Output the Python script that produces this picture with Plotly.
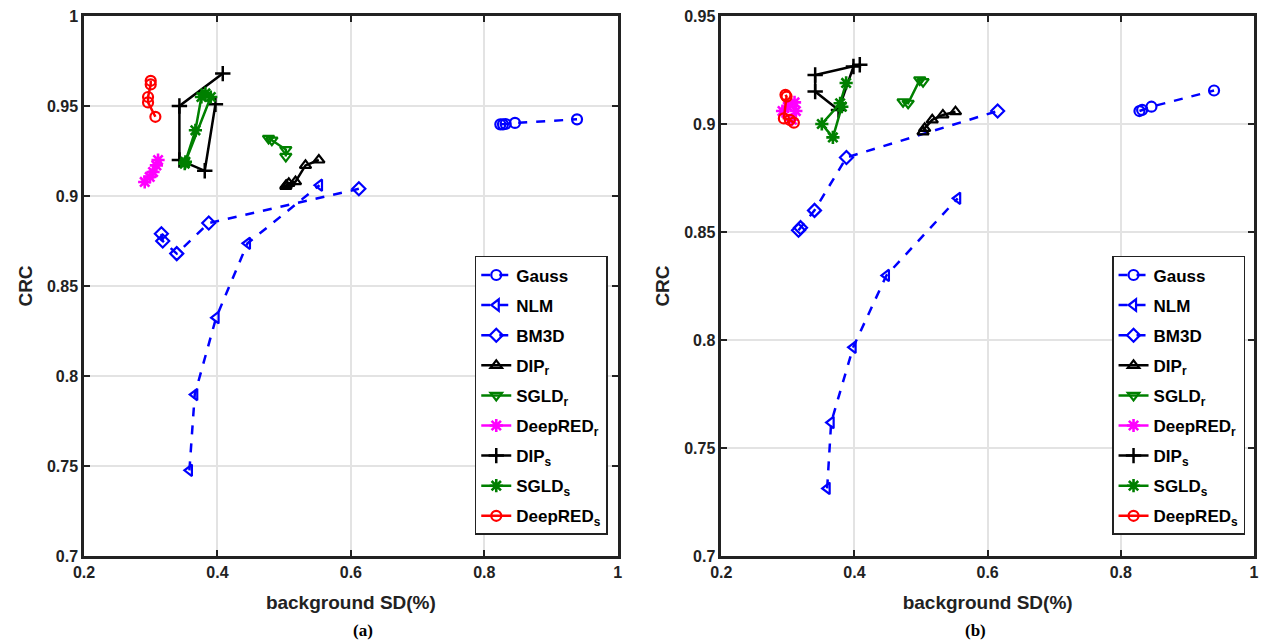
import plotly.graph_objects as go

# ---------------- data: panel (a) ----------------
a_gauss_x = [0.824, 0.828, 0.832, 0.846, 0.939]
a_gauss_y = [0.9398, 0.9398, 0.9400, 0.9406, 0.9426]
a_nlm_x = [0.358, 0.366, 0.398, 0.445, 0.553]
a_nlm_y = [0.7476, 0.7897, 0.8324, 0.8737, 0.906]
a_bm3d_x = [0.316, 0.318, 0.339, 0.387, 0.612]
a_bm3d_y = [0.879, 0.875, 0.868, 0.885, 0.904]
a_dipr_x = [0.552, 0.532, 0.517, 0.507, 0.503, 0.5025]
a_dipr_y = [0.920, 0.917, 0.908, 0.907, 0.906, 0.9054]
a_sgldr_x = [0.4766, 0.4816, 0.5025, 0.5025]
a_sgldr_y = [0.932, 0.931, 0.9258, 0.922]
a_deepr_x = [0.311, 0.3085, 0.3035, 0.2985, 0.291]
a_deepr_y = [0.920, 0.917, 0.9133, 0.9106, 0.9078]
a_dips_x = [0.408, 0.343, 0.343, 0.381, 0.397]
a_dips_y = [0.968, 0.950, 0.920, 0.914, 0.951]
a_sglds_x = [0.351, 0.367, 0.376, 0.382, 0.390, 0.352]
a_sglds_y = [0.918, 0.9365, 0.955, 0.957, 0.955, 0.919]
a_deeps_x = [0.300, 0.300, 0.296, 0.296, 0.307]
a_deeps_y = [0.964, 0.962, 0.955, 0.952, 0.944]

# ---------------- data: panel (b) ----------------
b_gauss_x = [0.828, 0.832, 0.846, 0.940]
b_gauss_y = [0.906, 0.9065, 0.908, 0.9155]
b_nlm_x = [0.359, 0.365, 0.398, 0.448, 0.555]
b_nlm_y = [0.7313, 0.7618, 0.7966, 0.8299, 0.8656]
b_bm3d_x = [0.316, 0.319, 0.340, 0.388, 0.615]
b_bm3d_y = [0.8508, 0.852, 0.860, 0.8845, 0.906]
b_dipr_x = [0.5517, 0.5328, 0.5168, 0.5054, 0.503]
b_dipr_y = [0.9057, 0.9042, 0.9019, 0.898, 0.8964]
b_sgldr_x = [0.473, 0.4806, 0.498, 0.503]
b_sgldr_y = [0.9103, 0.9096, 0.9204, 0.9196]
b_deepr_x = [0.292, 0.300, 0.310, 0.312, 0.306]
b_deepr_y = [0.906, 0.908, 0.910, 0.906, 0.902]
b_dips_x = [0.408, 0.341, 0.341, 0.376, 0.3985]
b_dips_y = [0.9274, 0.9227, 0.915, 0.9065, 0.9266]
b_sglds_x = [0.3875, 0.3785, 0.351, 0.3676, 0.381]
b_sglds_y = [0.919, 0.9096, 0.900, 0.8938, 0.908]
b_deeps_x = [0.2964, 0.298, 0.294, 0.303, 0.309]
b_deeps_y = [0.9135, 0.9127, 0.9026, 0.9019, 0.9006]

names = ["Gauss", "NLM", "BM3D", "DIP<sub>r</sub>", "SGLD<sub>r</sub>",
         "DeepRED<sub>r</sub>", "DIP<sub>s</sub>", "SGLD<sub>s</sub>", "DeepRED<sub>s</sub>"]
colors = ["#0000FF", "#0000FF", "#0000FF", "#000000", "#008000",
          "#FF00FF", "#000000", "#008000", "#FF0000"]
symbols = ["circle-open", "triangle-left-open", "diamond-open", "triangle-up-open",
           "triangle-down-open", "asterisk-open", "cross-thin-open", "asterisk-open", "circle-open"]
mwidths = [2.2, 2.2, 2.2, 2.2, 2.2, 2.6, 2.5, 2.6, 2.2]
msizes = [10, 10, 10, 10, 10, 11, 11, 11, 10]
dashes = ["dash", "dash", "dash", "solid", "solid", "solid", "solid", "solid", "solid"]

panel_a = [(a_gauss_x, a_gauss_y), (a_nlm_x, a_nlm_y), (a_bm3d_x, a_bm3d_y),
           (a_dipr_x, a_dipr_y), (a_sgldr_x, a_sgldr_y), (a_deepr_x, a_deepr_y),
           (a_dips_x, a_dips_y), (a_sglds_x, a_sglds_y), (a_deeps_x, a_deeps_y)]
panel_b = [(b_gauss_x, b_gauss_y), (b_nlm_x, b_nlm_y), (b_bm3d_x, b_bm3d_y),
           (b_dipr_x, b_dipr_y), (b_sgldr_x, b_sgldr_y), (b_deepr_x, b_deepr_y),
           (b_dips_x, b_dips_y), (b_sglds_x, b_sglds_y), (b_deeps_x, b_deeps_y)]

x_ticks = [0.2, 0.4, 0.6, 0.8, 1.0]
x_ticktext = ["0.2", "0.4", "0.6", "0.8", "1"]
a_y_ticks = [0.7, 0.75, 0.8, 0.85, 0.9, 0.95, 1.0]
a_y_ticktext = ["0.7", "0.75", "0.8", "0.85", "0.9", "0.95", "1"]
b_y_ticks = [0.7, 0.75, 0.8, 0.85, 0.9, 0.95]
b_y_ticktext = ["0.7", "0.75", "0.8", "0.85", "0.9", "0.95"]

fig = go.Figure()

for panel, xa, ya, leg in [(panel_a, "x", "y", "legend"), (panel_b, "x2", "y2", "legend2")]:
    for i, (xs, ys) in enumerate(panel):
        fig.add_trace(go.Scatter(
            x=xs, y=ys, xaxis=xa, yaxis=ya, name=names[i], legend=leg,
            legendgroup=leg + str(i),
            mode="lines+markers",
            line=dict(color=colors[i], width=2.5, dash=dashes[i]),
            marker=dict(symbol=symbols[i], size=msizes[i], color=colors[i],
                        line=dict(color=colors[i], width=mwidths[i])),
        ))

W, H = 1266, 642
L, R, T, B = 84, 7, 16, 86
pw = W - L - R
dom_a = [0, (620 - L) / pw]
dom_b = [(724 - L) / pw, 1]

tickfont = dict(family="Liberation Sans Narrow, Arial Narrow, Liberation Sans", size=16,
                color="#222222", weight="bold")
titlefont = dict(family="Liberation Sans, Arial", size=19, color="#222222")

def xaxis(dom, anchor):
    return dict(domain=dom, anchor=anchor, range=[0.2, 1.0], tickvals=x_ticks, ticktext=x_ticktext,
                showgrid=True, gridcolor="#e3e3e3", gridwidth=1.5, zeroline=False,
                showline=True, linecolor="#222222", linewidth=2.5, mirror="ticks",
                ticks="inside", ticklen=6, tickwidth=2, tickcolor="#222222",
                tickfont=tickfont,
                title=dict(text="<b>background SD(%)</b>", font=titlefont, standoff=16))

def yaxis(rng, tv, tt, anchor):
    return dict(anchor=anchor, domain=[0, 1], range=rng, tickvals=tv, ticktext=tt,
                showgrid=True, gridcolor="#e3e3e3", gridwidth=1.5, zeroline=False,
                showline=True, linecolor="#222222", linewidth=2.5, mirror="ticks",
                ticks="inside", ticklen=6, tickwidth=2, tickcolor="#222222",
                tickfont=tickfont,
                title=dict(text="<b>CRC</b>", font=titlefont, standoff=10))

legend_common = dict(
    bgcolor="white", bordercolor="#222222", borderwidth=1.5,
    font=dict(family="Liberation Sans, Arial", size=17, color="#000000", weight="bold"),
    xanchor="right", yanchor="bottom", y=0.039, tracegroupgap=5,
    itemwidth=30,
)

fig.update_layout(
    width=W, height=H,
    margin=dict(l=L, r=R, t=T, b=B),
    paper_bgcolor="white", plot_bgcolor="white",
    xaxis=xaxis(dom_a, "y"),
    yaxis=yaxis([0.7, 1.0], a_y_ticks, a_y_ticktext, "x"),
    xaxis2=xaxis(dom_b, "y2"),
    yaxis2=yaxis([0.7, 0.95], b_y_ticks, b_y_ticktext, "x2"),
    legend=dict(x=(610 - L) / pw, **legend_common),
    legend2=dict(x=(1250 - L) / pw, **legend_common),
    showlegend=True,
)

capfont = dict(family="Liberation Serif, Times New Roman", size=17, color="#000000")
fig.add_annotation(text="<b>(a)</b>", xref="paper", yref="paper",
                   x=(dom_a[0] + dom_a[1]) / 2, y=-(630 - (H - B)) / (H - T - B),
                   showarrow=False, font=capfont, yanchor="middle")
fig.add_annotation(text="<b>(b)</b>", xref="paper", yref="paper",
                   x=(dom_b[0] + dom_b[1]) / 2, y=-(630 - (H - B)) / (H - T - B),
                   showarrow=False, font=capfont, yanchor="middle")

fig.write_html("out.html")
